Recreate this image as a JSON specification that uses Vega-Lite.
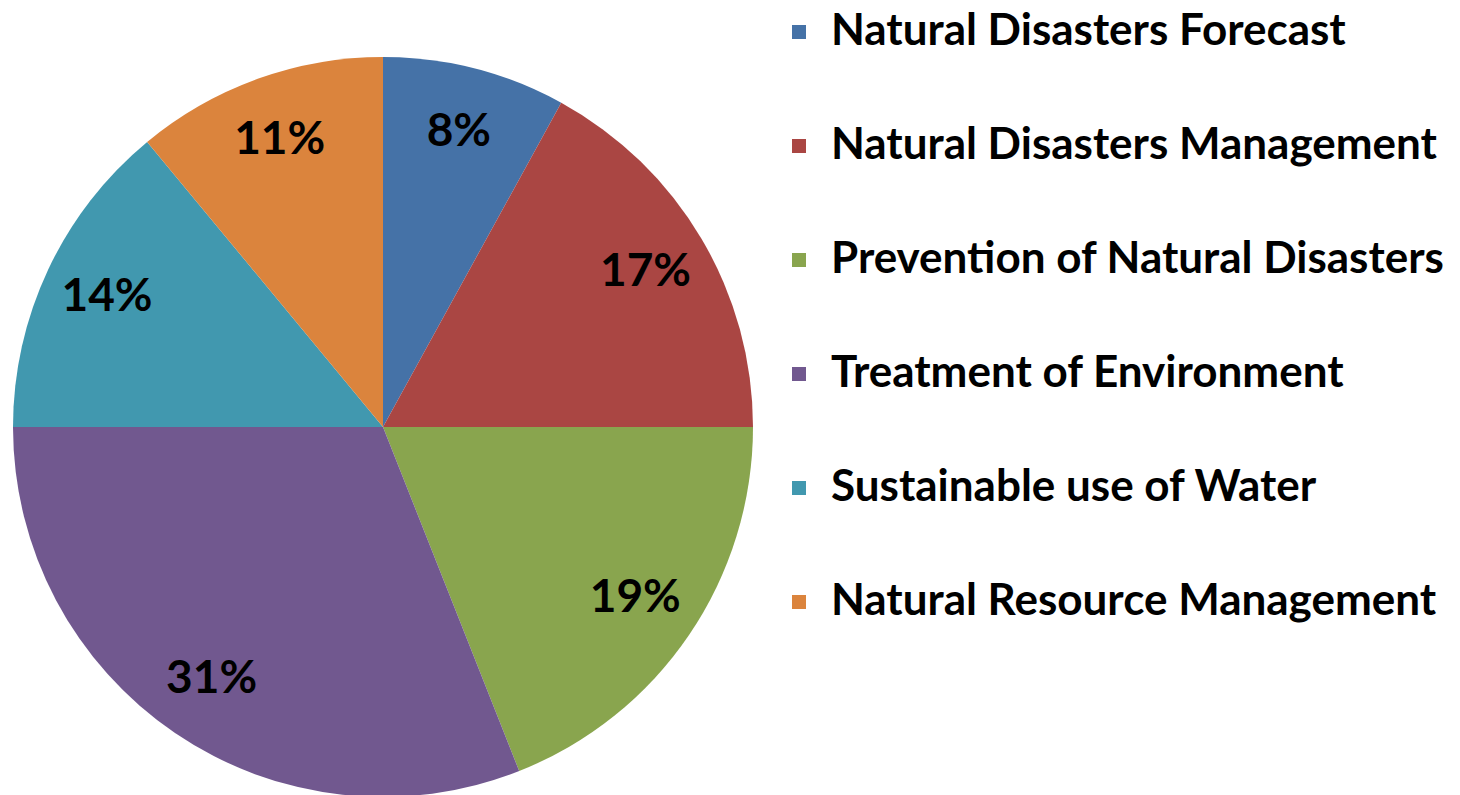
{
  "$schema": "https://vega.github.io/schema/vega-lite/v6.json",
  "width": 766,
  "height": 854,
  "autosize": {"type": "pad"},
  "padding": 0,
  "background": "white",
  "config": {"view": {"stroke": null}, "font": "Lato"},
  "data": {
    "values": [
      {"category": "Natural Disasters Forecast", "value": 8, "label": "8%", "ord": 1},
      {"category": "Natural Disasters Management", "value": 17, "label": "17%", "ord": 2},
      {"category": "Prevention of Natural Disasters", "value": 19, "label": "19%", "ord": 3},
      {"category": "Treatment of Environment", "value": 31, "label": "31%", "ord": 4},
      {"category": "Sustainable use of Water", "value": 14, "label": "14%", "ord": 5},
      {"category": "Natural Resource Management", "value": 11, "label": "11%", "ord": 6}
    ]
  },
  "encoding": {
    "theta": {"field": "value", "type": "quantitative", "stack": true},
    "order": {"field": "ord", "type": "quantitative"},
    "color": {
      "field": "category",
      "type": "nominal",
      "sort": {"field": "ord"},
      "scale": {
        "domain": ["Natural Disasters Forecast", "Natural Disasters Management", "Prevention of Natural Disasters", "Treatment of Environment", "Sustainable use of Water", "Natural Resource Management"],
        "range": ["#4572A7", "#AA4643", "#89A54E", "#71588F", "#4198AF", "#DB843D"]
      },
      "legend": {
        "title": null,
        "orient": "none",
        "legendX": 777,
        "legendY": 10,
        "symbolType": "square",
        "symbolSize": 196,
        "symbolStrokeWidth": 0,
        "symbolOpacity": 1,
        "labelFont": "Lato",
        "labelFontSize": 44,
        "labelFontWeight": "bold",
        "labelColor": "black",
        "labelOffset": 10,
        "labelLimit": 700,
        "rowPadding": 70,
        "padding": 0
      }
    }
  },
  "layer": [
    {"mark": {"type": "arc", "outerRadius": 370}},
    {
      "mark": {"type": "text", "radius": 305, "font": "Lato", "fontSize": 46, "fontWeight": "bold", "color": "black"},
      "encoding": {"text": {"field": "label"}, "color": {"value": "black"}}
    }
  ]
}
